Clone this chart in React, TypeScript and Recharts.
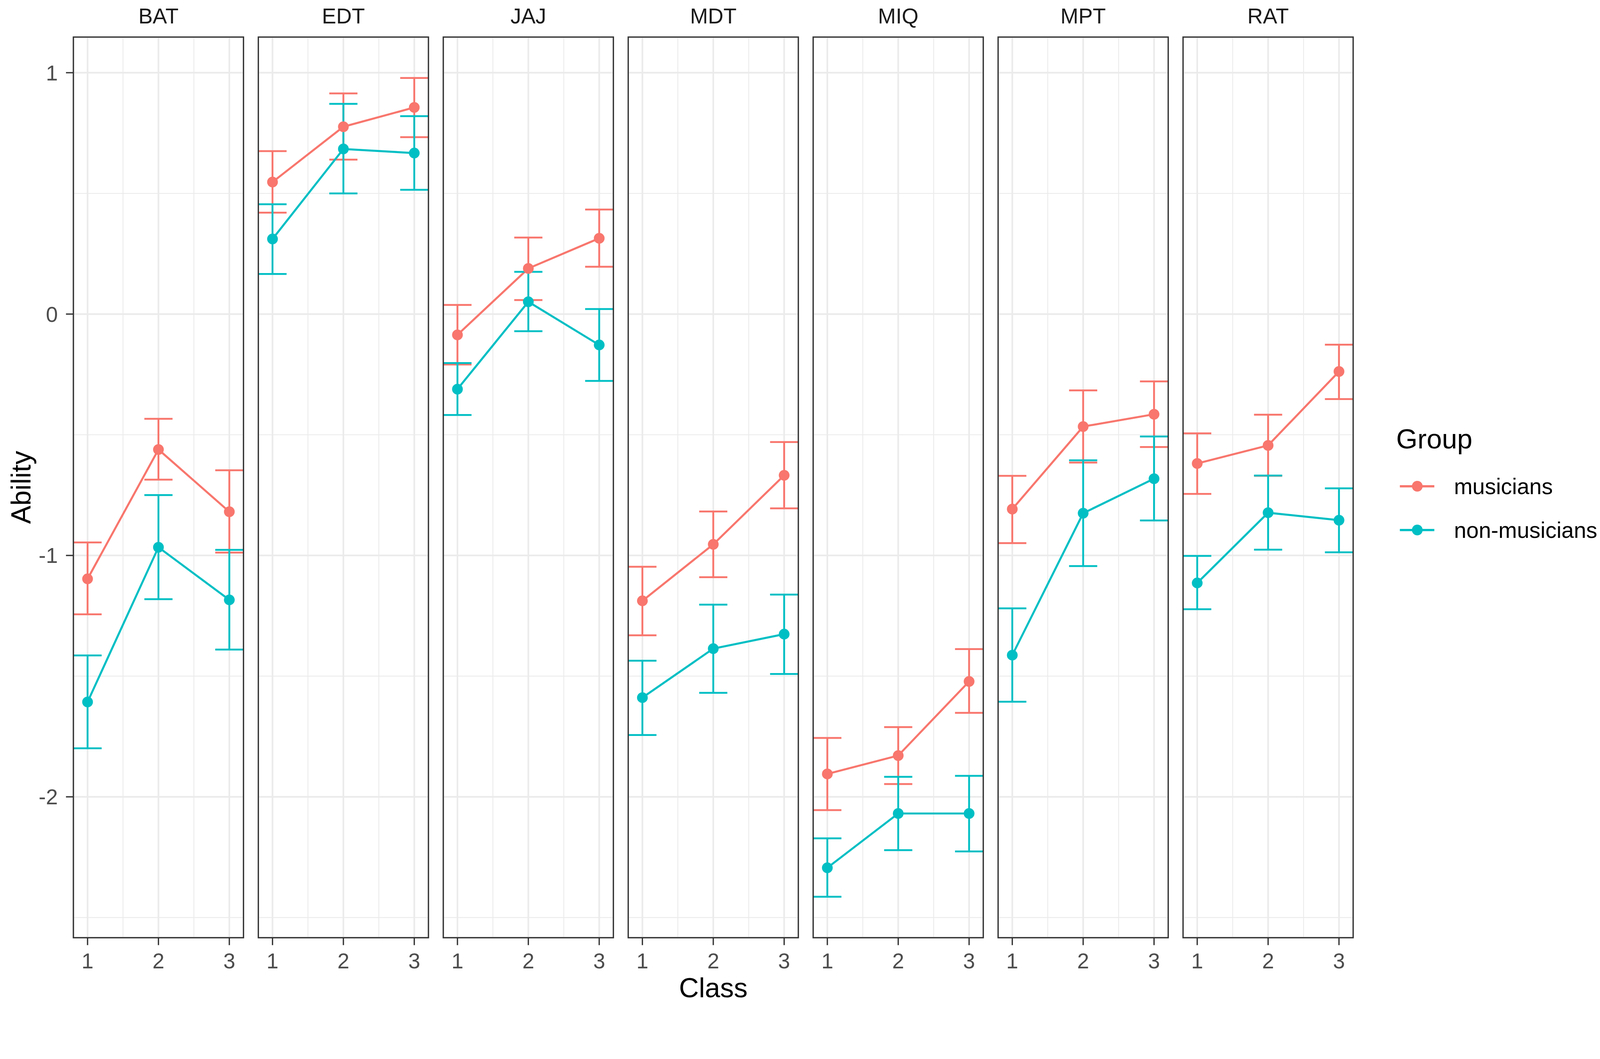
import React from 'react';
import { LineChart, Line, XAxis, YAxis, CartesianGrid, ErrorBar } from 'recharts';

// ---------- data ----------
const tests = ['BAT', 'EDT', 'JAJ', 'MDT', 'MIQ', 'MPT', 'RAT'];
const classes = [1, 2, 3];
const groups = ['musicians', 'non-musicians'];

// rows follow `tests`, columns follow `classes`
const musiciansMean = [
  [-1.097, -0.561, -0.819],
  [0.547, 0.776, 0.856],
  [-0.086, 0.189, 0.314],
  [-1.188, -0.954, -0.668],
  [-1.905, -1.829, -1.522],
  [-0.808, -0.466, -0.415],
  [-0.619, -0.544, -0.238],
];
const musiciansLow = [
  [-1.244, -0.686, -0.988],
  [0.42, 0.64, 0.733],
  [-0.209, 0.058, 0.196],
  [-1.331, -1.09, -0.805],
  [-2.055, -1.947, -1.652],
  [-0.949, -0.615, -0.551],
  [-0.745, -0.67, -0.352],
];
const musiciansHigh = [
  [-0.946, -0.434, -0.647],
  [0.675, 0.914, 0.978],
  [0.038, 0.317, 0.433],
  [-1.047, -0.818, -0.53],
  [-1.756, -1.711, -1.388],
  [-0.67, -0.316, -0.279],
  [-0.494, -0.417, -0.127],
];
const nonMusiciansMean = [
  [-1.607, -0.966, -1.184],
  [0.311, 0.684, 0.667],
  [-0.311, 0.051, -0.128],
  [-1.589, -1.386, -1.326],
  [-2.294, -2.069, -2.069],
  [-1.413, -0.825, -0.682],
  [-1.114, -0.823, -0.854],
];
const nonMusiciansLow = [
  [-1.799, -1.181, -1.39],
  [0.166, 0.5, 0.515],
  [-0.418, -0.071, -0.277],
  [-1.744, -1.569, -1.491],
  [-2.414, -2.221, -2.226],
  [-1.606, -1.044, -0.855],
  [-1.223, -0.976, -0.987],
];
const nonMusiciansHigh = [
  [-1.414, -0.75, -0.977],
  [0.455, 0.871, 0.82],
  [-0.203, 0.175, 0.021],
  [-1.436, -1.204, -1.162],
  [-2.172, -1.917, -1.913],
  [-1.219, -0.606, -0.507],
  [-1.002, -0.669, -0.722],
];

const xTicks = [1, 2, 3];
const xMinorTicks = [1.5, 2.5];
const yTicks = [-2, -1, 0, 1];
const yMinorTicks = [-2.5, -1.5, -0.5, 0.5];

// ---------- styling / layout ----------
const FONT = '"Liberation Sans", Arial, Helvetica, sans-serif';
const COLORS = ['#F8766D', '#00BFC4'];
const W = 4317;
const H = 2711;
const PANEL_TOP = 100;
const PANEL_H = 2430;
const PANEL_W = 459;
const PANEL_LEFT0 = 198;
const PANEL_STEP = 499;
const X_AXIS_H = H - PANEL_TOP - PANEL_H;

// ggplot-like continuous expansion (5% of range on y, 0.6 on x for 1..3)
const allLow = [...musiciansLow.flat(), ...nonMusiciansLow.flat()];
const allHigh = [...musiciansHigh.flat(), ...nonMusiciansHigh.flat()];
const yMin = Math.min(...allLow);
const yMax = Math.max(...allHigh);
const yPad = (yMax - yMin) * 0.05;
const Y_DOMAIN: [number, number] = [yMin - yPad, yMax + yPad];
const xPad = (classes[classes.length - 1] - classes[0]) * 0.1;
const X_DOMAIN: [number, number] = [classes[0] - xPad, classes[classes.length - 1] + xPad];

function panelLeft(k: number) {
  return PANEL_LEFT0 + k * PANEL_STEP;
}

function Panel({ k }: { k: number }) {
  const data = classes.map((c, i) => ({
    cls: c,
    mus: musiciansMean[k][i],
    musErr: [musiciansMean[k][i] - musiciansLow[k][i], musiciansHigh[k][i] - musiciansMean[k][i]],
    non: nonMusiciansMean[k][i],
    nonErr: [nonMusiciansMean[k][i] - nonMusiciansLow[k][i], nonMusiciansHigh[k][i] - nonMusiciansMean[k][i]],
  }));
  const first = k === 0;
  const left = first ? 0 : panelLeft(k);
  const width = first ? PANEL_LEFT0 + PANEL_W : PANEL_W;
  const tickStyle = { fontSize: 58, fill: '#4D4D4D', fontFamily: FONT };
  return (
    <div style={{ position: 'absolute', left, top: PANEL_TOP }}>
      <LineChart width={width} height={PANEL_H + X_AXIS_H} data={data} margin={{ top: 0, right: 0, bottom: 0, left: 0 }}>
        <XAxis xAxisId="minor" dataKey="cls" type="number" domain={X_DOMAIN} ticks={xMinorTicks} hide allowDataOverflow />
        <YAxis yAxisId="minor" type="number" domain={Y_DOMAIN} ticks={yMinorTicks} hide allowDataOverflow />
        <CartesianGrid xAxisId="minor" yAxisId="minor" stroke="#EBEBEB" strokeWidth={2.3} />
        <CartesianGrid stroke="#EBEBEB" strokeWidth={4.5} />
        <XAxis
          dataKey="cls"
          type="number"
          domain={X_DOMAIN}
          ticks={xTicks}
          interval={0}
          allowDataOverflow
          height={X_AXIS_H}
          axisLine={false}
          tickLine={{ stroke: '#333333', strokeWidth: 3.5 }}
          tickSize={20}
          tickMargin={22}
          tick={tickStyle}
        />
        <YAxis
          type="number"
          domain={Y_DOMAIN}
          ticks={yTicks}
          interval={0}
          allowDataOverflow
          hide={!first}
          width={PANEL_LEFT0}
          axisLine={false}
          tickLine={{ stroke: '#333333', strokeWidth: 3.5 }}
          tickSize={20}
          tickMargin={22}
          tick={tickStyle}
        />
        <Line
          type="linear"
          dataKey="mus"
          name={groups[0]}
          stroke={COLORS[0]}
          strokeWidth={5.5}
          dot={{ r: 14.5, fill: COLORS[0], stroke: COLORS[0], strokeWidth: 0 }}
          activeDot={false}
          isAnimationActive={false}
        >
          <ErrorBar dataKey="musErr" width={38} strokeWidth={5} stroke={COLORS[0]} direction="y" isAnimationActive={false} />
        </Line>
        <Line
          type="linear"
          dataKey="non"
          name={groups[1]}
          stroke={COLORS[1]}
          strokeWidth={5.5}
          dot={{ r: 14.5, fill: COLORS[1], stroke: COLORS[1], strokeWidth: 0 }}
          activeDot={false}
          isAnimationActive={false}
        >
          <ErrorBar dataKey="nonErr" width={38} strokeWidth={5} stroke={COLORS[1]} direction="y" isAnimationActive={false} />
        </Line>
      </LineChart>
    </div>
  );
}

function Overlay() {
  const legendX = 3777;
  const legendKeyY = [1312, 1430];
  const midY = PANEL_TOP + PANEL_H / 2;
  return (
    <svg width={W} height={H} style={{ position: 'absolute', left: 0, top: 0, pointerEvents: 'none' }}>
      {tests.map((t, k) => (
        <g key={t}>
          <rect x={panelLeft(k)} y={PANEL_TOP} width={PANEL_W} height={PANEL_H} fill="none" stroke="#333333" strokeWidth={3.5} />
          <text x={panelLeft(k) + PANEL_W / 2} y={63} textAnchor="middle" fontSize={58} fill="#1A1A1A" fontFamily={FONT}>
            {t}
          </text>
        </g>
      ))}
      <text x={(PANEL_LEFT0 + panelLeft(tests.length - 1) + PANEL_W) / 2} y={2691} textAnchor="middle" fontSize={74} fill="#000" fontFamily={FONT}>
        Class
      </text>
      <text
        x={82}
        y={midY}
        textAnchor="middle"
        fontSize={74}
        fill="#000"
        fontFamily={FONT}
        transform={`rotate(-90, 82, ${midY})`}
      >
        Ability
      </text>
      <text x={3767} y={1210} fontSize={74} fill="#000" fontFamily={FONT}>
        Group
      </text>
      {groups.map((g, i) => (
        <g key={g}>
          <line x1={legendX} x2={legendX + 93} y1={legendKeyY[i]} y2={legendKeyY[i]} stroke={COLORS[i]} strokeWidth={6} />
          <circle cx={legendX + 47} cy={legendKeyY[i]} r={14.5} fill={COLORS[i]} />
          <text x={3923} y={legendKeyY[i] + 21} fontSize={60} fill="#000" fontFamily={FONT}>
            {g}
          </text>
        </g>
      ))}
    </svg>
  );
}

function useFitScale() {
  const get = () =>
    typeof window === 'undefined' ? 1 : Math.min(window.innerWidth / W, window.innerHeight / H);
  const [s, setS] = React.useState(get);
  React.useEffect(() => {
    const on = () => setS(get());
    window.addEventListener('resize', on);
    return () => window.removeEventListener('resize', on);
  }, []);
  return s;
}

export default function App() {
  const s = useFitScale();
  return (
    <div
      style={{
        position: 'fixed',
        left: 0,
        top: 0,
        width: W,
        height: H,
        background: '#ffffff',
        overflow: 'hidden',
        transform: `scale(${s})`,
        transformOrigin: '0 0',
      }}
    >
      {tests.map((t, k) => (
        <Panel key={t} k={k} />
      ))}
      <Overlay />
    </div>
  );
}
